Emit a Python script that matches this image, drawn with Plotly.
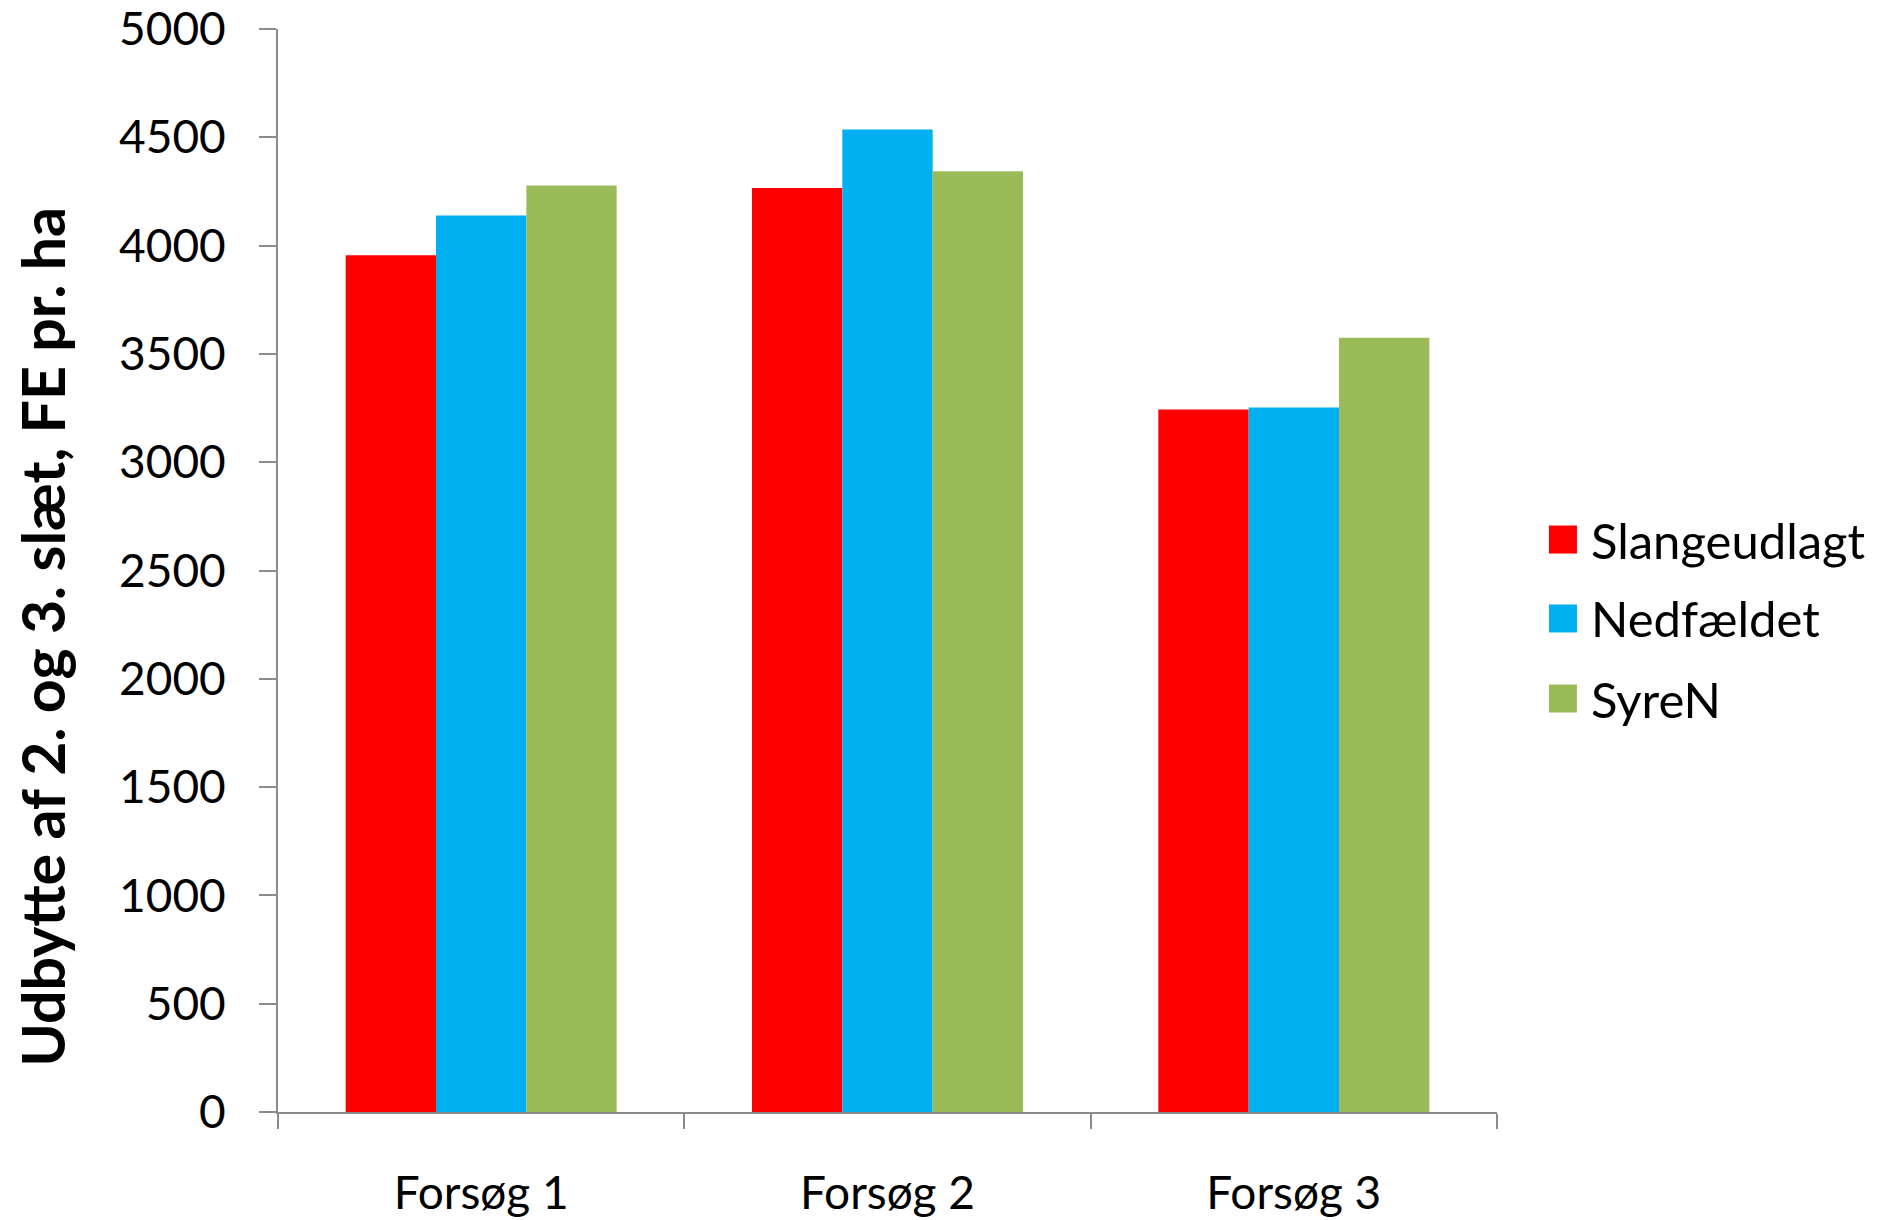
import plotly.graph_objects as go

categories = ["Forsøg 1", "Forsøg 2", "Forsøg 3"]
slangeudlagt = [3955, 4266, 3243]
nedfaeldet = [4139, 4536, 3253]
syren = [4277, 4343, 3575]
series_names = ["Slangeudlagt", "Nedfældet", "SyreN"]
y_ticks = [0, 500, 1000, 1500, 2000, 2500, 3000, 3500, 4000, 4500, 5000]
y_title = "Udbytte af 2. og 3. slæt, FE pr. ha"

colors = ["#FF0000", "#00B0F0", "#9BBB59"]
FONT = "Lato"
AXIS_COLOR = "#8C8C8C"

# custom legend placement (paper coords)
LEG_SWATCH_X = 1.0541
LEG_TEXT_X = 1.0755
LEG_Y = [0.5286, 0.4557, 0.3818]
SWATCH = 28

fig = go.Figure()
for i, (name, vals) in enumerate(zip(series_names, [slangeudlagt, nedfaeldet, syren])):
    fig.add_trace(go.Bar(
        x=categories, y=vals, name=name,
        marker=dict(color=colors[i], line=dict(width=0)),
        showlegend=False,
    ))

shapes = []
annotations = []
for i, name in enumerate(series_names):
    shapes.append(dict(
        type="rect", xref="paper", yref="paper",
        xsizemode="pixel", ysizemode="pixel",
        xanchor=LEG_SWATCH_X, yanchor=LEG_Y[i],
        x0=-SWATCH / 2, x1=SWATCH / 2, y0=-SWATCH / 2, y1=SWATCH / 2,
        fillcolor=colors[i], line=dict(width=0),
    ))
    annotations.append(dict(
        text=name, xref="paper", yref="paper", x=LEG_TEXT_X, y=LEG_Y[i],
        xanchor="left", yanchor="middle", showarrow=False,
        font=dict(family=FONT, size=49, color="black"),
    ))

annotations.append(dict(
    text="<b>" + y_title + "</b>", textangle=-90,
    xref="paper", yref="paper", x=-0.1935, y=0.439,
    xanchor="center", yanchor="middle", showarrow=False,
    font=dict(family=FONT, size=59, color="black"),
))

fig.update_layout(
    width=1878, height=1220,
    margin=dict(l=270, r=389, t=21, b=116, autoexpand=False),
    paper_bgcolor="white", plot_bgcolor="white",
    barmode="group", bargap=0.333, bargroupgap=0,
    font=dict(family=FONT, size=44, color="black"),
    showlegend=False,
    xaxis=dict(
        automargin=False,
        showline=True, linecolor=AXIS_COLOR, linewidth=2,
        ticks="outside", ticklen=15, tickwidth=2, tickcolor=AXIS_COLOR,
        tickson="boundaries", showgrid=False, zeroline=False,
        tickfont=dict(family=FONT, size=46, color="black"),
        ticklabelstandoff=40,
        ticklabeloverflow="allow",
    ),
    yaxis=dict(
        automargin=False,
        range=[0, 5000], tickvals=y_ticks,
        showline=True, linecolor=AXIS_COLOR, linewidth=2,
        ticks="outside", ticklen=17, tickwidth=2, tickcolor=AXIS_COLOR,
        showgrid=False, zeroline=False,
        tickfont=dict(family=FONT, size=46, color="black"),
        ticklabelstandoff=24,
        ticklabeloverflow="allow",
    ),
    shapes=shapes,
    annotations=annotations,
)

fig.write_html("out.html")
